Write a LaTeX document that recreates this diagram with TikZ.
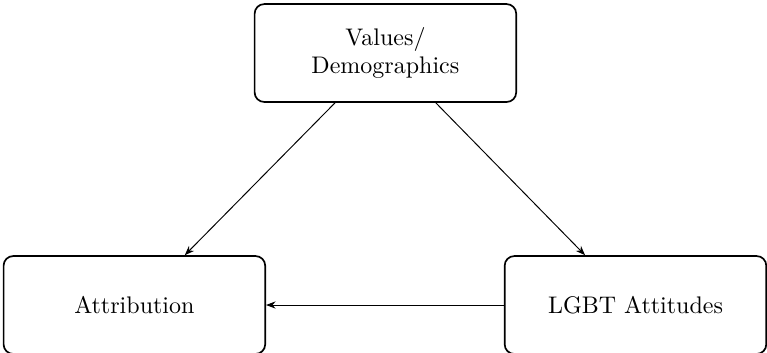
\documentclass[tikz,border=0pt]{standalone}
\usetikzlibrary{arrows.meta}
\begin{document}
\begin{tikzpicture}[x=1pt,y=1pt,
  box/.style={draw, line width=0.7pt, rounded corners=4pt, minimum width=109pt, minimum height=40.8pt, inner sep=0pt, align=center},
  conn/.style={line width=0.4pt, -{Stealth[length=4pt,width=3pt]}}]
\useasboundingbox (0,0) rectangle (319.6,146.7);
\node[box] (vd) at (160.6,124.6) {Values/\\Demographics};
\node[box] (at) at (56.0,19.6) {Attribution};
\node[box] (lg) at (264.8,19.6) {LGBT Attitudes};
\draw[conn] ([xshift=-21pt]vd.south) -- ([xshift=21pt]at.north);
\draw[conn] ([xshift=21pt]vd.south) -- ([xshift=-21pt]lg.north);
\draw[conn] (lg.west) -- (at.east);
\end{tikzpicture}
\end{document}
